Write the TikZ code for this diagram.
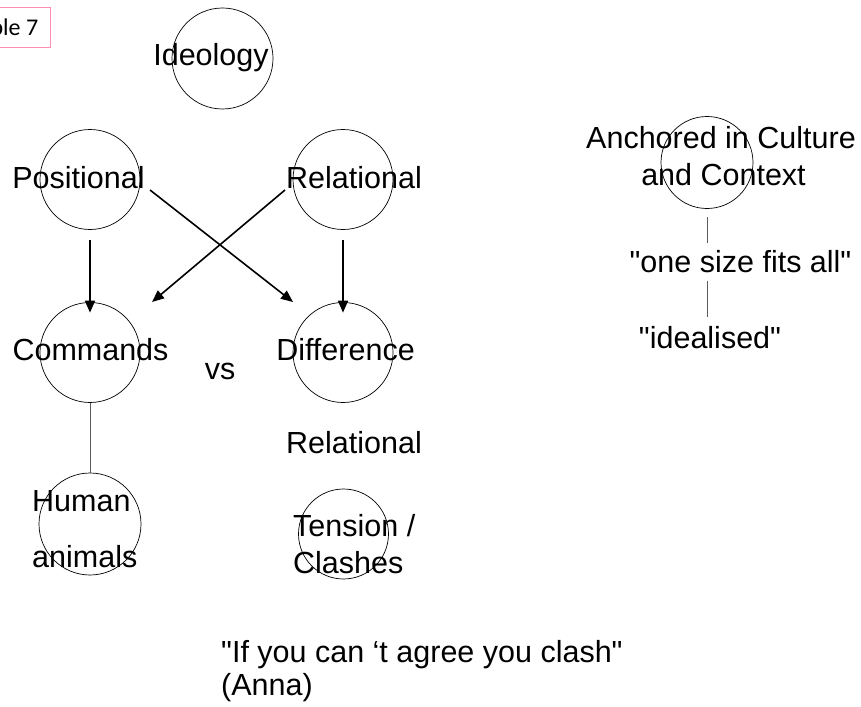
\documentclass[tikz,border=0pt]{standalone}
\usepackage{fontspec}
\setmainfont{Liberation Sans}
\newfontfamily\tagfont{Carlito}
\usetikzlibrary{arrows.meta}
\definecolor{tagpink}{RGB}{255,140,180}
\definecolor{linkgrey}{RGB}{90,90,90}
\newcommand{\dq}{\textquotedbl}
\begin{document}
\begin{tikzpicture}[x=1pt,y=-1pt,
  ring/.style={circle,draw=black,line width=0.7pt,inner sep=0pt},
  lbl/.style={inner sep=0pt,font=\fontsize{30.5}{36}\selectfont,anchor=base},
  lblw/.style={lbl,anchor=base west},
  arr/.style={line width=1.6pt,-{Triangle[length=12pt,width=10pt]}},
  link/.style={draw=linkgrey,line width=0.8pt}]
\clip (0,0) rectangle (861,706);
\fill[white] (0,0) rectangle (861,706);

% slide tag, partly cut off at the left edge
\node[draw=tagpink,line width=0.8pt,minimum width=93.7pt,minimum height=40.4pt,
      inner sep=0pt,font=\tagfont\fontsize{24}{28}\selectfont] (tag) at (3.8,27.5) {Table 7};

% circles
\node[ring,minimum size=101pt] (ideo) at (222.5,58.5) {};
\node[ring,minimum size=100pt] (pos)  at (90,179.5) {};
\node[ring,minimum size=100pt] (rel)  at (343,179.5) {};
\node[ring,minimum size=100pt] (cmd)  at (90,352.5) {};
\node[ring,minimum size=100pt] (diff) at (343,352.5) {};
\node[ring,minimum size=102pt] (hum)  at (90,524) {};
\node[ring,minimum size=90pt]  (ten)  at (343.5,534) {};
\node[ring,minimum size=92pt]  (anc)  at (707,162.5) {};

% labels
\node[lbl] (ideoT) at (211,66) {Ideology};
\node[lbl] (posT)  at (78.5,188) {Positional};
\node[lbl] (relT)  at (354,188) {Relational};
\node[lbl] (cmdT)  at (90.5,360) {Commands};
\node[lbl] (vsT)   at (220,379) {vs};
\node[lbl] (diffT) at (345.5,360) {Difference};
\node[lbl] (rel2T) at (354,453) {Relational};
\node[lblw] (humA) at (32,511) {Human};
\node[lblw] (humB) at (32,567) {animals};
\node[lblw] (tenA) at (293,536) {Tension /};
\node[lblw] (tenB) at (293,573) {Clashes};
\node[lbl] (ancA)  at (721,148) {Anchored in Culture};
\node[lbl] (ancB)  at (723.5,185) {and Context};
\node[lbl] (size)  at (740.5,272) {\dq one size fits all\dq};
\node[lbl] (ideal) at (710,348) {\dq idealised\dq};
\node[lblw] (quoteA) at (221,662) {\dq If you can ‘t agree you clash\dq};
\node[lblw] (quoteB) at (221,695) {(Anna)};

% arrows
\draw[arr,shorten <=10.5pt] (pos.south) -- ([yshift=-10.5pt]cmd.north);
\draw[arr,shorten <=10.5pt] (rel.south) -- ([yshift=-10.5pt]diff.north);
\draw[arr] ([shift={(60,10.5)}]pos.center) -- ([shift={(-50,-50.5)}]diff.center);
\draw[arr] ([shift={(-58,10.5)}]rel.center) -- ([shift={(62,-50.5)}]cmd.center);

% plain links
\draw[link] (cmd.south) -- (hum.north);
\draw[link,shorten <=8.5pt] (anc.south) -- ([yshift=7pt]anc.south |- size.north);
\draw[link] ([yshift=-8pt]anc.south |- size.south) -- ([yshift=9pt]anc.south |- ideal.north);
\end{tikzpicture}
\end{document}
